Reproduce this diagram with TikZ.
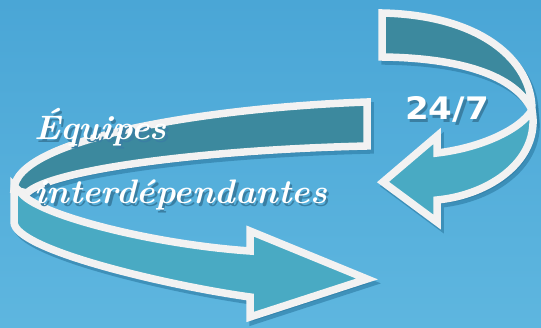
\documentclass[tikz,border=0pt]{standalone}
\usepackage{fontspec}
\usepackage{tikz}
\newfontfamily\numfont{DejaVu Sans}
\definecolor{bgtop}{HTML}{4AA6D6}
\definecolor{bgbottom}{HTML}{5EB6DF}
\definecolor{darkband}{HTML}{3C899E}
\definecolor{lightband}{HTML}{49AAC3}
\definecolor{bandwhite}{HTML}{F2F2F2}
\definecolor{shadowblue}{HTML}{2C7AA2}
\definecolor{textshadow}{HTML}{3A7FA3}
\tikzstyle{myband} = [draw=bandwhite, line width=7.5pt, line join=miter]
\tikzstyle{myshadow} = [draw=shadowblue, fill=shadowblue, line width=7.5pt,
opacity=.6, shift={(3,4)}]
\tikzstyle{mytext} = [white, inner sep=0pt, anchor=base west]
% text with its shadow below right
\newcommand{\shadowed}[1]{\makebox[0pt][l]{\hspace{2.5pt}\raisebox{-3pt}{\color{textshadow}#1}}#1}
% outlines of the four pieces of ribbon
\newcommand{\backloop}{(367,102) .. controls (200,108) and (14,140) .. (14,190)
  -- (27,193) .. controls (50,170) and (200,150) .. (367,146) -- cycle}
\newcommand{\frontloop}{(14,186) -- (14,222) .. controls (14,250) and (170,286) .. (250,297)
  -- (250,317) -- (367,279) -- (250,231) -- (250,251)
  .. controls (150,244) and (40,215) .. (22,194) -- cycle}
\newcommand{\upperturn}{(382,13) .. controls (480,15) and (532,60) .. (532,110)
  .. controls (515,75) and (460,58) .. (382,57) -- cycle}
\newcommand{\lowerturn}{(532,110) .. controls (541,160) and (490,195) .. (437,200)
  -- (437,222) -- (383,182) -- (437,136) -- (437,153)
  .. controls (480,148) and (520,130) .. (532,110) -- cycle}

\begin{document}
\begin{tikzpicture}[x=1pt, y=-1pt]
		\useasboundingbox (0,0) rectangle (541,328);
		\shade[top color=bgtop, bottom color=bgbottom] (0,0) rectangle (541,328);
		
		% big loop
		\draw[myshadow] \backloop;
		\draw[myband, fill=darkband] \backloop;
		\draw[myshadow] \frontloop;
		\draw[myband, fill=lightband] \frontloop;
		
		% small turn
		\draw[myshadow] \upperturn;
		\draw[myband, fill=darkband] \upperturn;
		\draw[myshadow] \lowerturn;
		\draw[myband, fill=lightband] \lowerturn;
		
		% labels
		\node [mytext, xscale=1.02] (equipes) at (34,140)
			{\fontsize{34}{40}\selectfont\bfseries\itshape \shadowed{Équipes}};
		\node [mytext, xscale=1.02] (interdep) at (34,204)
			{\fontsize{34}{40}\selectfont\bfseries\itshape \shadowed{interdépendantes}};
		\node [mytext, xscale=1.1] (hours) at (405,120)
			{\fontsize{31}{36}\selectfont\numfont\bfseries \shadowed{24/7}};
\end{tikzpicture}
\end{document}
